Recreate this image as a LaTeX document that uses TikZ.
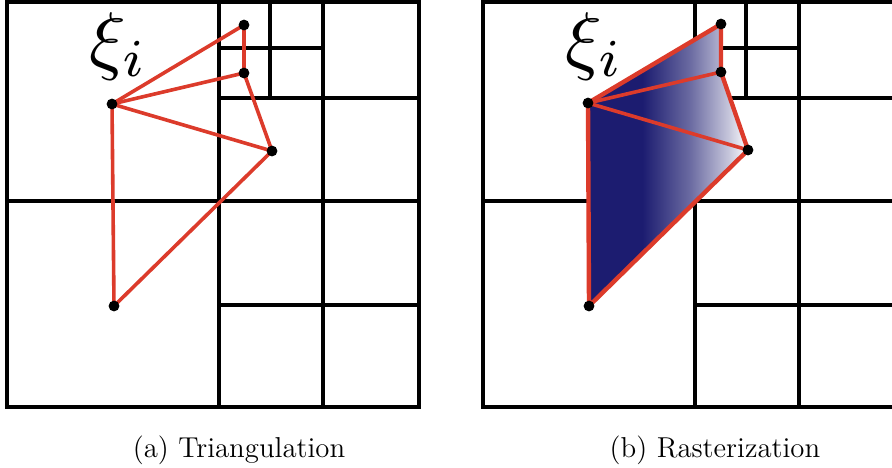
\documentclass[tikz,border=0pt]{standalone}
\usepackage{xcolor}
\definecolor{edgered}{HTML}{DC3B2B}
\definecolor{fillblue}{HTML}{1C1C70}
\pgfdeclarehorizontalshading{rasterfade}{100bp}{%
  color(0bp)=(fillblue); color(42bp)=(fillblue);
  color(57bp)=(fillblue!65!white); color(69bp)=(fillblue!25!white);
  color(75bp)=(white); color(100bp)=(white)}
\newcommand{\quadcells}{%
  \draw[cell] (7,2) rectangle (419,407);
  \draw[cell] (219,2) -- (219,407);
  \draw[cell] (323,2) -- (323,407);
  \draw[cell] (7,201) -- (419,201);
  \draw[cell] (219,98) -- (419,98);
  \draw[cell] (219,305) -- (419,305);
  \draw[cell] (270,2) -- (270,98);
  \draw[cell] (219,48) -- (323,48);
}

\begin{document}
\begin{tikzpicture}[
  x=0.5pt, y=-0.5pt,
  cell/.style={draw=black, line width=1.9pt},
  edge/.style={draw=edgered, line width=1.8pt, line join=round},
  vert/.style={circle, fill=black, minimum size=5.4pt, inner sep=0pt},
  sub/.style={font=\fontsize{14.4}{17}\selectfont},
  xilbl/.style={scale=3.8},
]
  \useasboundingbox (0,0) rectangle (892,467);
  \clip (0,0) rectangle (892,467);

  % (a) triangulation
  \quadcells
  \coordinate (a-xi)  at (112,104);
  \coordinate (a-top) at (244,25);
  \coordinate (a-mid) at (244,73);
  \coordinate (a-rgt) at (272,151);
  \coordinate (a-bot) at (114,306);
  \draw[edge] (a-xi) -- (a-top) -- (a-mid) -- (a-rgt) -- (a-bot) -- (a-xi);
  \draw[edge] (a-xi) -- (a-mid);
  \draw[edge] (a-xi) -- (a-rgt);
  \foreach \v in {xi,top,mid,rgt,bot}
    \node[vert] at (a-\v) {};
  \node[xilbl] (a-lbl) at (119,46) {$\xi_i$};
  \node[sub] (a-cap) at (239,450) {(a) Triangulation};

  % (b) rasterization
  \begin{scope}[shift={(476,0)}]
    \quadcells
    \coordinate (b-xi)  at (112,103);
    \coordinate (b-top) at (245,24);
    \coordinate (b-mid) at (245,72);
    \coordinate (b-rgt) at (272,150);
    \coordinate (b-bot) at (113,306);
    \shade[shading=rasterfade]
      (b-xi) -- (b-top) -- (b-mid) -- (b-rgt) -- (b-bot) -- cycle;
    \draw[edge, line width=2.2pt] (b-xi) -- (b-top) -- (b-mid) -- (b-rgt) -- (b-bot) -- (b-xi);
    \draw[edge] (b-xi) -- (b-mid);
    \draw[edge] (b-xi) -- (b-rgt);
    \foreach \v in {xi,top,mid,rgt,bot}
      \node[vert] at (b-\v) {};
    \node[xilbl] (b-lbl) at (119,46) {$\xi_i$};
    \node[sub] (b-cap) at (239,450) {(b) Rasterization};
  \end{scope}
\end{tikzpicture}
\end{document}
